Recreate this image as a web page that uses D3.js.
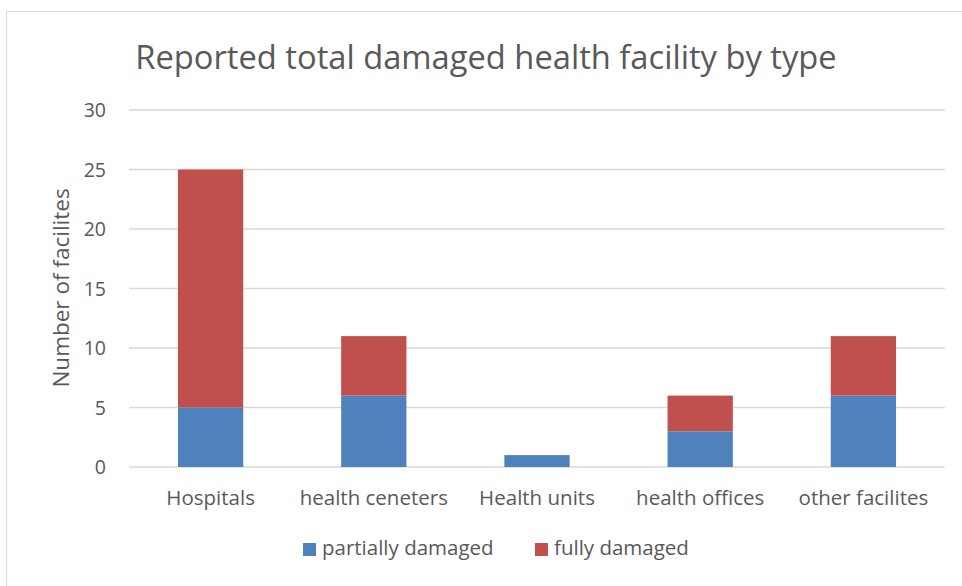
<!DOCTYPE html>
<html><head><meta charset="utf-8">
<script src="https://cdn.jsdelivr.net/npm/d3@7"></script>
<style>body{margin:0;background:#fff;} text{font-family:"Open Sans",sans-serif;fill:#595959;}</style>
</head><body>
<svg id="c" width="962" height="586"></svg>
<script>
const categories = ["Hospitals","health ceneters","Health units","health offices","other facilites"];
const partiallyDamaged = [5,6,1,3,6];
const fullyDamaged = [20,5,0,3,5];
const yTicks = [0,5,10,15,20,25,30];
const seriesNames = ["partially damaged","fully damaged"];
const colors = ["#4f81bd","#c0504d"];

const svg = d3.select("#c");
svg.append("rect").attr("x",6.5).attr("y",11.5).attr("width",970).attr("height",600)
  .attr("fill","#fff").attr("stroke","#d9d9d9");
const L=129,R=945,T=110,B=467;
const x = d3.scaleBand().domain(categories).range([L,R]).paddingInner(0.6).paddingOuter(0.3);
const y = d3.scaleLinear().domain([0,30]).range([B,T]);

svg.append("g").selectAll("line").data(yTicks).join("line")
  .attr("x1",L).attr("x2",R).attr("y1",d=>y(d)).attr("y2",d=>y(d))
  .attr("stroke","#d9d9d9").attr("stroke-width",1.5);

const yAxis = d3.axisLeft(y).tickValues(yTicks).tickSize(0).tickPadding(0);
const gy = svg.append("g").attr("transform",`translate(${L-23},0)`).call(yAxis);
gy.select(".domain").remove();
gy.selectAll("text").attr("font-size",19.5).style("font-family","'Open Sans',sans-serif").attr("fill","#595959").attr("dy","0.35em");

const stackData = categories.map((c,i)=>({cat:c, p:partiallyDamaged[i], f:fullyDamaged[i]}));
const stack = d3.stack().keys(["p","f"])(stackData);
svg.append("g").selectAll("g").data(stack).join("g").attr("fill",(d,i)=>colors[i])
  .selectAll("rect").data(d=>d).join("rect")
  .attr("x",d=>x(d.data.cat)).attr("width",x.bandwidth())
  .attr("y",d=>y(d[1])).attr("height",d=>y(d[0])-y(d[1]));

const xAxis = d3.axisBottom(x).tickSize(0).tickPadding(0);
const gx = svg.append("g").attr("transform",`translate(0,${B+31})`).call(xAxis);
gx.select(".domain").remove();
gx.selectAll("text").attr("font-size",20.5).style("font-family","'Open Sans',sans-serif").attr("fill","#595959").attr("dy","0.35em");

svg.append("text").attr("x",486).attr("y",60).attr("text-anchor","middle")
  .attr("dominant-baseline","middle").attr("font-size",32.7).text("Reported total damaged health facility by type");

svg.append("text").attr("transform","translate(63,288) rotate(-90)").attr("text-anchor","middle")
  .attr("dominant-baseline","middle").attr("font-size",22.5).text("Number of facilites");

const legX=[303,535];
const lg = svg.append("g").selectAll("g").data(seriesNames).join("g")
  .attr("transform",(d,i)=>`translate(${legX[i]},550)`);
lg.append("rect").attr("x",0).attr("y",-7).attr("width",13).attr("height",13).attr("fill",(d,i)=>colors[i]);
lg.append("text").attr("x",19).attr("y",0).attr("dominant-baseline","middle").attr("font-size",20.5).text(d=>d);
</script>
</body></html>
